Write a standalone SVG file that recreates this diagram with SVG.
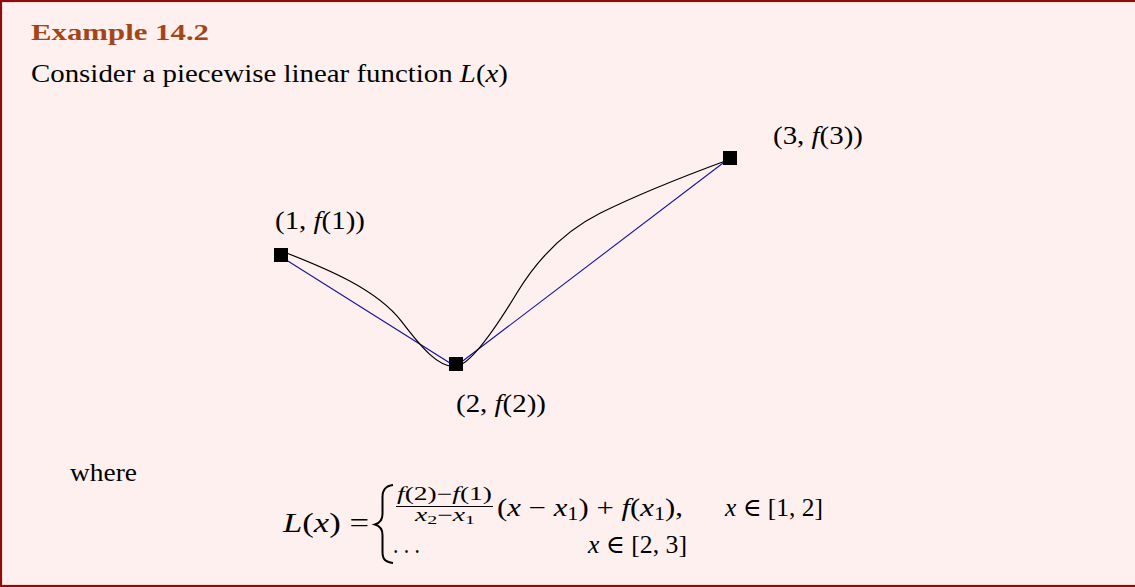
<svg xmlns="http://www.w3.org/2000/svg" width="1135" height="587" viewBox="0 0 1135 587">
<style>
  .t { font-family: "Liberation Serif", "DejaVu Serif", serif; font-size: 25px; fill: #000; }
  .s { font-family: "Liberation Serif", "DejaVu Serif", serif; font-size: 18px; fill: #000; }
  .title { font-family: "Liberation Serif", "DejaVu Serif", serif; font-size: 24px; font-weight: bold; fill: #A24619; }
  .i { font-style: italic; }
  .sq { fill: #000; }
  .curve { fill: none; stroke: #000; stroke-width: 1.2; }
  .lin { fill: none; stroke: #1414a0; stroke-width: 1.1; }
</style>
<rect x="1" y="1" width="1140" height="585" fill="#FFF0F0" stroke="#8E0C0C" stroke-width="2.2"/>
<g id="header">
  <text class="title" x="31" y="40" textLength="178" lengthAdjust="spacingAndGlyphs">Example 14.2</text>
  <text class="t" x="31" y="82" textLength="477" lengthAdjust="spacingAndGlyphs">Consider a piecewise linear function <tspan class="i">L</tspan>(<tspan class="i">x</tspan>)</text>
</g>
<g id="connectors">
  <path class="lin" d="M281.5,257 L455.5,366.5 L729,158.5"/>
  <path class="curve" d="M284,252 C325,268 376.7,288.9 401.7,321.7 C421.7,347.9 438,367 455,366.7 C472,366 501.7,318.1 516.7,293.3 C538,258 565,230.8 600,213.3 C640,193.3 690,174 728,160"/>
</g>
<g id="p1">
  <rect class="sq" x="274" y="248" width="14" height="14"/>
  <text class="t" x="275" y="229" textLength="90" lengthAdjust="spacingAndGlyphs">(1, <tspan class="i">f</tspan>(1))</text>
</g>
<g id="p2">
  <rect class="sq" x="449" y="357" width="14" height="14"/>
  <text class="t" x="456" y="412" textLength="90" lengthAdjust="spacingAndGlyphs">(2, <tspan class="i">f</tspan>(2))</text>
</g>
<g id="p3">
  <rect class="sq" x="723" y="151" width="14" height="14"/>
  <text class="t" x="773" y="144" textLength="90" lengthAdjust="spacingAndGlyphs">(3, <tspan class="i">f</tspan>(3))</text>
</g>
<g id="formula">
  <text class="t" x="70" y="481" textLength="67" lengthAdjust="spacingAndGlyphs">where</text>
  <text class="t" x="283" y="532" style="font-size:27px" textLength="86" lengthAdjust="spacingAndGlyphs"><tspan class="i">L</tspan>(<tspan class="i">x</tspan>) =</text>
  <path d="M393,485 C385,486 382.5,490 382.5,497 L382.5,514 C382.5,520 380,523 375,524.5 C380,526 382.5,529 382.5,535 L382.5,552 C382.5,559 385,562 393,563" fill="none" stroke="#000" stroke-width="2"/>
  <text class="s" x="397" y="500" textLength="95" lengthAdjust="spacingAndGlyphs"><tspan class="i">f</tspan>(2)−<tspan class="i">f</tspan>(1)</text>
  <line x1="396" y1="506.5" x2="493" y2="506.5" stroke="#000" stroke-width="1"/>
  <text class="s" x="415" y="521" textLength="60" lengthAdjust="spacingAndGlyphs"><tspan class="i">x</tspan><tspan font-size="13" dy="3">2</tspan><tspan dy="-3">−</tspan><tspan class="i">x</tspan><tspan font-size="13" dy="3">1</tspan></text>
  <text class="t" x="497" y="516" textLength="186" lengthAdjust="spacingAndGlyphs">(<tspan class="i">x</tspan> − <tspan class="i">x</tspan><tspan font-size="18" dy="4">1</tspan><tspan dy="-4">) + </tspan><tspan class="i">f</tspan>(<tspan class="i">x</tspan><tspan font-size="18" dy="4">1</tspan><tspan dy="-4">),</tspan></text>
  <text class="t" x="725" y="516" textLength="98" lengthAdjust="spacingAndGlyphs"><tspan class="i">x</tspan> ∈ [1, 2]</text>
  <text class="t" x="393" y="553" textLength="27" lengthAdjust="spacingAndGlyphs">. . .</text>
  <text class="t" x="588" y="553" textLength="99" lengthAdjust="spacingAndGlyphs"><tspan class="i">x</tspan> ∈ [2, 3]</text>
</g>
</svg>
